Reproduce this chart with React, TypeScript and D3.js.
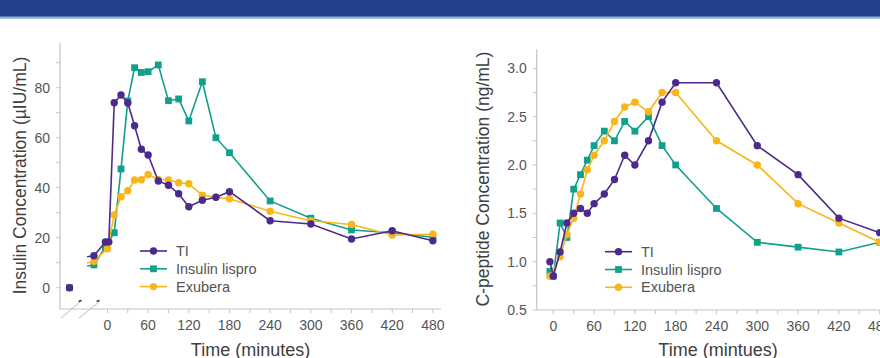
import React from 'react';
import * as d3 from 'd3';

const width = 880;
const height = 358;
const font = 'Liberation Sans, Arial, sans-serif';
const colors = {ti: '#4b2a8c', lispro: '#11a08b', exubera: '#f8b619'};
const axisColor = '#c4c4c4';
const labelColor = '#555';

const seriesNames = ['TI', 'Insulin lispro', 'Exubera'];

// insulin (left panel), first point of each line is drawn without a marker
const insTiTimes = [-30, -20, -3, 2, 10, 20, 30, 40, 50, 60, 75, 90, 105, 120, 140, 160, 180, 240, 300, 360, 420, 480];
const insTi = [12.4, 12.8, 18.3, 18.3, 74, 77.1, 73.9, 64.8, 55.4, 53.1, 42.7, 41, 37.6, 32.4, 35, 36.2, 38.4, 26.8, 25.5, 19.5, 22.8, 18.8];
const insLisproTimes = [-30, -20, -3, 10, 20, 30, 40, 50, 60, 75, 90, 105, 120, 140, 160, 180, 240, 300, 360, 420, 480];
const insLispro = [8.7, 9.1, 16.3, 22, 47.5, 74.7, 88, 86.1, 86.4, 89.1, 74.8, 75.5, 66.7, 82.4, 60, 54, 34.7, 27.8, 23.1, 22, 20.2];
const insExuberaTimes = [-30, -20, 0, 10, 20, 30, 40, 50, 60, 75, 90, 105, 120, 140, 160, 180, 240, 300, 360, 420, 480];
const insExubera = [9.9, 10.6, 15.6, 29.1, 36.4, 38.8, 43.1, 43.2, 45.3, 43.3, 43.1, 42, 41.6, 37, 36.2, 35.6, 30.6, 26.8, 25.3, 21.1, 21.4];
const insBaselineTime = -56; // pre-dose point left of the axis break
const insBaselineTi = 0;
const insBaselineLispro = 0;

// C-peptide (right panel)
const cpTiTimes = [-5, 0, 10, 20, 30, 40, 50, 60, 75, 90, 105, 120, 140, 160, 180, 240, 300, 360, 420, 480];
const cpTi = [1.0, 0.85, 1.1, 1.4, 1.5, 1.55, 1.5, 1.6, 1.7, 1.85, 2.1, 2.0, 2.25, 2.65, 2.85, 2.85, 2.2, 1.9, 1.45, 1.3];
const cpLisproTimes = [-5, 0, 10, 20, 30, 40, 50, 60, 75, 90, 105, 120, 140, 160, 180, 240, 300, 360, 420, 480];
const cpLispro = [0.9, 0.85, 1.4, 1.25, 1.75, 1.9, 2.05, 2.2, 2.35, 2.25, 2.45, 2.35, 2.5, 2.2, 2.0, 1.55, 1.2, 1.15, 1.1, 1.2];
const cpExuberaTimes = [-5, 10, 20, 30, 40, 50, 60, 75, 90, 105, 120, 140, 160, 180, 240, 300, 360, 420, 480];
const cpExubera = [0.85, 1.05, 1.28, 1.45, 1.7, 1.95, 2.1, 2.25, 2.45, 2.6, 2.65, 2.55, 2.75, 2.75, 2.25, 2.0, 1.6, 1.4, 1.2];

const xTickLabels = [0, 60, 120, 180, 240, 300, 360, 420, 480];
const insYTickLabels = [0, 20, 40, 60, 80];
const cpYTickLabels = [0.5, 1.0, 1.5, 2.0, 2.5, 3.0];

function Marker({shape, x, y, color}) {
  if (shape === 'square') return <rect x={x - 3.4} y={y - 3.4} width={6.8} height={6.8} fill={color} />;
  return <circle cx={x} cy={y} r={3.7} fill={color} />;
}

function Series({times, values, xScale, yScale, color, shape, skipFirst}) {
  const pts = times.map((t, i) => [xScale(t), yScale(values[i])]);
  const line = d3.line();
  return (
    <g>
      <path d={line(pts)} fill='none' stroke={color} strokeWidth={1.6} />
      {pts.map((p, i) => (skipFirst && i === 0) ? null :
        <Marker key={i} shape={shape} x={p[0]} y={p[1]} color={color} />)}
    </g>
  );
}

function Legend({x, y}) {
  const shapes = ['circle', 'square', 'circle'];
  const cols = [colors.ti, colors.lispro, colors.exubera];
  return (
    <g>
      {seriesNames.map((name, i) => (
        <g key={name} transform={`translate(${x}, ${y + i * 17.8})`}>
          <line x1={0} x2={27} y1={0} y2={0} stroke={cols[i]} strokeWidth={1.6} />
          <Marker shape={shapes[i]} x={13.5} y={0} color={cols[i]} />
          <text x={36} y={5} fontSize={14.5} fill={labelColor} fontFamily={font}>{name}</text>
        </g>
      ))}
    </g>
  );
}

function Axes({xScale, yScale, xRange, yRange, yTicks, yMinor, xMinor, yFormat, xLabelY}) {
  const x0 = xRange[0];
  const yBottom = yRange[1];
  return (
    <g>
      <line x1={x0} x2={x0} y1={yRange[0]} y2={yBottom} stroke={axisColor} strokeWidth={1.2} />
      <line x1={x0} x2={xRange[1]} y1={yBottom} y2={yBottom} stroke={axisColor} strokeWidth={1.2} />
      {yMinor.map(v => <line key={'ym' + v} x1={x0 - 4} x2={x0} y1={yScale(v)} y2={yScale(v)} stroke={axisColor} />)}
      {yTicks.map(v => (
        <text key={'yt' + v} x={x0 - 10} y={yScale(v) + 5} textAnchor='end' fontSize={14} fill={labelColor} fontFamily={font}>{yFormat(v)}</text>
      ))}
      {xMinor.map(t => <line key={'xm' + t} x1={xScale(t)} x2={xScale(t)} y1={yBottom} y2={yBottom + 4} stroke={axisColor} />)}
      {xTickLabels.map(t => (
        <text key={'xt' + t} x={xScale(t)} y={xLabelY} textAnchor='middle' fontSize={14} fill={labelColor} fontFamily={font}>{t}</text>
      ))}
    </g>
  );
}

export default function App() {
  // left panel scales
  const xL = d3.scaleLinear().domain([-70, 492]).range([60, 441]);
  const yL = d3.scaleLinear().domain([0, 80]).range([287.7, 87.7]);
  // right panel scales
  const xR = d3.scaleLinear().domain([0, 480]).range([553.3, 879.7]);
  const yR = d3.scaleLinear().domain([0.5, 3.0]).range([310, 68.3]);

  const xMinor = d3.range(0, 481, 30);

  return (
    <svg width={width} height={height} style={{position: 'absolute', left: 0, top: 0, display: 'block'}}>
      <rect width={width} height={height} fill='#fff' />
      {/* header band */}
      <rect x={-10} y={-10} width={width + 20} height={29} rx={7} fill='#a9cbe9' />
      <rect x={-10} y={-10} width={width + 20} height={27.5} rx={7} fill='#6d8fcb' />
      <rect x={-10} y={-10} width={width + 20} height={26.2} rx={7} fill='#22438b' />

      {/* left panel: insulin */}
      <Axes xScale={xL} yScale={yL} xRange={[60, 441]} yRange={[43, 309]}
        yTicks={insYTickLabels} yMinor={d3.range(0, 91, 10)} xMinor={xMinor}
        yFormat={v => v} xLabelY={330} />
      {/* axis break marks */}
      <line x1={61} y1={318} x2={80} y2={302} stroke='#bbb' strokeWidth={1} />
      <line x1={79} y1={318} x2={99} y2={302} stroke='#bbb' strokeWidth={1} />
      <line x1={78.5} y1={301.3} x2={81.5} y2={300.5} stroke='#222' strokeWidth={1.3} />
      <line x1={96.5} y1={301.3} x2={99.5} y2={300.5} stroke='#222' strokeWidth={1.3} />

      <Series times={insLisproTimes} values={insLispro} xScale={xL} yScale={yL} color={colors.lispro} shape='square' skipFirst />
      <Series times={insExuberaTimes} values={insExubera} xScale={xL} yScale={yL} color={colors.exubera} shape='circle' skipFirst />
      <Series times={insTiTimes} values={insTi} xScale={xL} yScale={yL} color={colors.ti} shape='circle' skipFirst />
      <Marker shape='square' x={xL(insBaselineTime)} y={yL(insBaselineLispro)} color={colors.lispro} />
      <Marker shape='circle' x={xL(insBaselineTime)} y={yL(insBaselineTi)} color={colors.ti} />
      <Legend x={140} y={251} />

      <text transform='translate(26, 175.5) rotate(-90)' textAnchor='middle' fontSize={17.5} fill='#404040' fontFamily={font}>Insulin Concentration (µIU/mL)</text>
      <text x={250.5} y={356} textAnchor='middle' fontSize={18} fill='#404040' fontFamily={font}>Time (minutes)</text>

      {/* right panel: C-peptide */}
      <Axes xScale={xR} yScale={yR} xRange={[536.7, 882]} yRange={[49.3, 310]}
        yTicks={cpYTickLabels} yMinor={d3.range(0.5, 3.01, 0.25)} xMinor={xMinor}
        yFormat={v => v.toFixed(1)} xLabelY={331} />
      <Series times={cpLisproTimes} values={cpLispro} xScale={xR} yScale={yR} color={colors.lispro} shape='square' />
      <Series times={cpExuberaTimes} values={cpExubera} xScale={xR} yScale={yR} color={colors.exubera} shape='circle' />
      <Series times={cpTiTimes} values={cpTi} xScale={xR} yScale={yR} color={colors.ti} shape='circle' />
      <Legend x={605} y={251.7} />

      <text transform='translate(489, 179) rotate(-90)' textAnchor='middle' fontSize={17.5} fill='#404040' fontFamily={font}>C-peptide Concentration (ng/mL)</text>
      <text x={718} y={356} textAnchor='middle' fontSize={18} fill='#404040' fontFamily={font}>Time (mintues)</text>
    </svg>
  );
}
